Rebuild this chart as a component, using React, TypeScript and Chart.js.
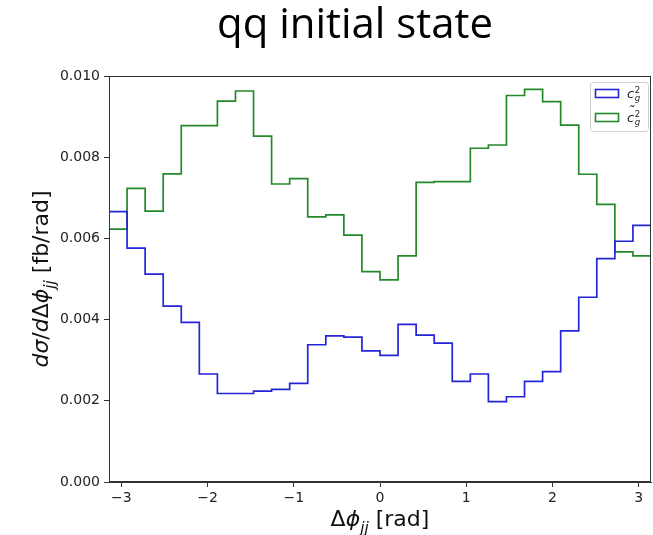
import { useEffect, useRef } from "react";
import { Chart, registerables } from "chart.js";

Chart.register(...registerables);

const NBINS = 30;
const blueValues = [
  0.00666, 0.00576, 0.00512, 0.00433, 0.00393, 0.00266, 0.00218, 0.00218, 0.00224, 0.00228,
  0.00243, 0.00338, 0.0036, 0.00357, 0.00323, 0.00312, 0.00388, 0.00362, 0.00342, 0.00248,
  0.00266, 0.00198, 0.0021, 0.00248, 0.00272, 0.00372, 0.00455, 0.0055, 0.00593, 0.00632,
];
const greenValues = [
  0.00623, 0.00723, 0.00667, 0.00759, 0.00878, 0.00878, 0.00938, 0.00963, 0.00852, 0.00734,
  0.00747, 0.00653, 0.00658, 0.00608, 0.00518, 0.00498, 0.00557, 0.00738, 0.0074, 0.0074,
  0.00822, 0.0083, 0.00952, 0.00967, 0.00937, 0.00879, 0.00758, 0.00684, 0.00567, 0.00557,
];
const xTickValues = [-3, -2, -1, 0, 1, 2, 3];
const yTickValues = [0, 0.002, 0.004, 0.006, 0.008, 0.01];
const titleText = "qq initial state";
const blueColor = "#2424d8";
const greenColor = "#23892a";

const edges = Array.from({ length: NBINS + 1 }, (_, i) => -Math.PI + (i * 2 * Math.PI) / NBINS);
const toSteps = (vals: number[]) =>
  edges.map((x, i) => ({ x, y: vals[Math.min(i, vals.length - 1)] }));

type Run = { t: string; f: string; dy?: number };

function drawRuns(ctx: CanvasRenderingContext2D, runs: Run[], x: number, y: number, align: "center" | "left") {
  let total = 0;
  const widths = runs.map((r) => {
    ctx.font = r.f;
    const w = ctx.measureText(r.t).width;
    total += w;
    return w;
  });
  let cx = align === "center" ? x - total / 2 : x;
  ctx.textAlign = "left";
  ctx.textBaseline = "alphabetic";
  runs.forEach((r, i) => {
    ctx.font = r.f;
    ctx.fillText(r.t, cx, y + (r.dy || 0));
    cx += widths[i];
  });
}

const decorPlugin = {
  id: "decor",
  afterDatasetsDraw(chart: any) {
    const { ctx, chartArea } = chart;
    const { left, right, top, bottom } = chartArea;
    ctx.save();
    // frame
    ctx.strokeStyle = "#333";
    ctx.lineWidth = 1;
    ctx.strokeRect(left + 0.5, top + 0.5, right - left - 1, bottom - top - 1);

    // title
    ctx.fillStyle = "#000";
    ctx.font = "36px 'Open Sans'";
    const w0 = ctx.measureText(titleText).width;
    const size = (36 * 276) / w0;
    ctx.font = `${size}px 'Open Sans'`;
    ctx.textAlign = "center";
    ctx.textBaseline = "alphabetic";
    ctx.fillText(titleText, 355, 38);

    // axis titles
    const fs = 22;
    const it = `italic ${fs}px 'DejaVu Sans'`;
    const up = `${fs}px 'DejaVu Sans'`;
    const sub = `italic ${fs * 0.7}px 'DejaVu Sans'`;
    ctx.fillStyle = "#111";
    drawRuns(
      ctx,
      [
        { t: "Δ", f: up },
        { t: "ϕ", f: it },
        { t: "jj", f: sub, dy: fs * 0.3 },
        { t: " [rad]", f: up },
      ],
      380,
      526,
      "center"
    );
    ctx.save();
    ctx.translate(48, (top + bottom) / 2);
    ctx.rotate(-Math.PI / 2);
    drawRuns(
      ctx,
      [
        { t: "dσ", f: it },
        { t: "/", f: up },
        { t: "d", f: it },
        { t: "Δ", f: up },
        { t: "ϕ", f: it },
        { t: "jj", f: sub, dy: fs * 0.3 },
        { t: " [fb/rad]", f: up },
      ],
      0,
      0,
      "center"
    );
    ctx.restore();

    // legend
    const bx = 590, by = 82, bw = 58, bh = 49;
    ctx.fillStyle = "rgba(255,255,255,0.85)";
    ctx.strokeStyle = "#d0d0d0";
    ctx.lineWidth = 1;
    ctx.beginPath();
    ctx.roundRect(bx + 0.5, by + 0.5, bw, bh, 3);
    ctx.fill();
    ctx.stroke();
    const entries = chart.data.datasets;
    entries.forEach((ds: any, i: number) => {
      const ey = by + 12 + i * 24;
      ctx.strokeStyle = ds.borderColor;
      ctx.lineWidth = 1.6;
      ctx.strokeRect(595.5, ey - 4.5, 23, 8);
      ctx.fillStyle = "#222";
      const cf = "italic 13px 'DejaVu Sans'";
      const sf = "italic 8.5px 'DejaVu Sans'";
      const nf = "8.5px 'DejaVu Sans'";
      const lx = 627;
      ctx.font = cf;
      ctx.textAlign = "left";
      ctx.textBaseline = "alphabetic";
      ctx.fillText("c", lx, ey + 4);
      const cw = ctx.measureText("c").width;
      if (ds.tilde) {
        ctx.fillText("˜", lx + 1, ey - 3);
      }
      ctx.font = nf;
      ctx.fillText("2", lx + cw + 0.5, ey - 1);
      ctx.font = sf;
      ctx.fillText("g", lx + cw + 0.5, ey + 7);
    });
    ctx.restore();
  },
};

export default function App() {
  const ref = useRef<HTMLCanvasElement | null>(null);
  useEffect(() => {
    document.body.style.margin = "0";
    const canvas = ref.current!;
    const axisFont = { family: "'DejaVu Sans'", size: 14 };
    const chart = new Chart(canvas, {
      type: "line",
      data: {
        datasets: [
          {
            label: "c_g^2",
            data: toSteps(blueValues),
            borderColor: blueColor,
            borderWidth: 1.7,
            stepped: "before",
            pointRadius: 0,
            fill: false,
          } as any,
          {
            label: "c~_g^2",
            tilde: true,
            data: toSteps(greenValues),
            borderColor: greenColor,
            borderWidth: 1.7,
            stepped: "before",
            pointRadius: 0,
            fill: false,
          } as any,
        ],
      },
      options: {
        responsive: false,
        animation: false,
        layout: { padding: { top: 76, right: 2, left: 0, bottom: 0 } },
        plugins: { legend: { display: false }, tooltip: { enabled: false }, title: { display: false } },
        scales: {
          x: {
            type: "linear",
            min: -Math.PI,
            max: Math.PI,
            afterBuildTicks: (s: any) => {
              s.ticks = xTickValues.map((v) => ({ value: v }));
            },
            afterFit: (s: any) => {
              s.height = 53;
            },
            ticks: {
              font: axisFont,
              color: "#222",
              padding: 3,
              maxRotation: 0,
              autoSkip: false,
              callback: (v: any) => (Number(v) < 0 ? "−" + Math.abs(Number(v)) : String(v)),
            },
            grid: { drawOnChartArea: false, drawTicks: true, tickLength: 5, tickColor: "#333" },
            border: { display: true, color: "#333", width: 1 },
          },
          y: {
            type: "linear",
            min: 0,
            max: 0.01,
            afterBuildTicks: (s: any) => {
              s.ticks = yTickValues.map((v) => ({ value: v }));
            },
            afterFit: (s: any) => {
              s.width = 109;
            },
            ticks: {
              font: axisFont,
              color: "#222",
              padding: 4,
              autoSkip: false,
              callback: (v: any) => Number(v).toFixed(3),
            },
            grid: { drawOnChartArea: false, drawTicks: true, tickLength: 5, tickColor: "#333" },
            border: { display: true, color: "#333", width: 1 },
          },
        },
      },
      plugins: [decorPlugin],
    });
    return () => chart.destroy();
  }, []);
  return (
    <div style={{ position: "fixed", left: 0, top: 0, width: 653, height: 535, background: "#fff" }}>
      <canvas ref={ref} width={653} height={535} style={{ width: 653, height: 535 }} />
    </div>
  );
}
